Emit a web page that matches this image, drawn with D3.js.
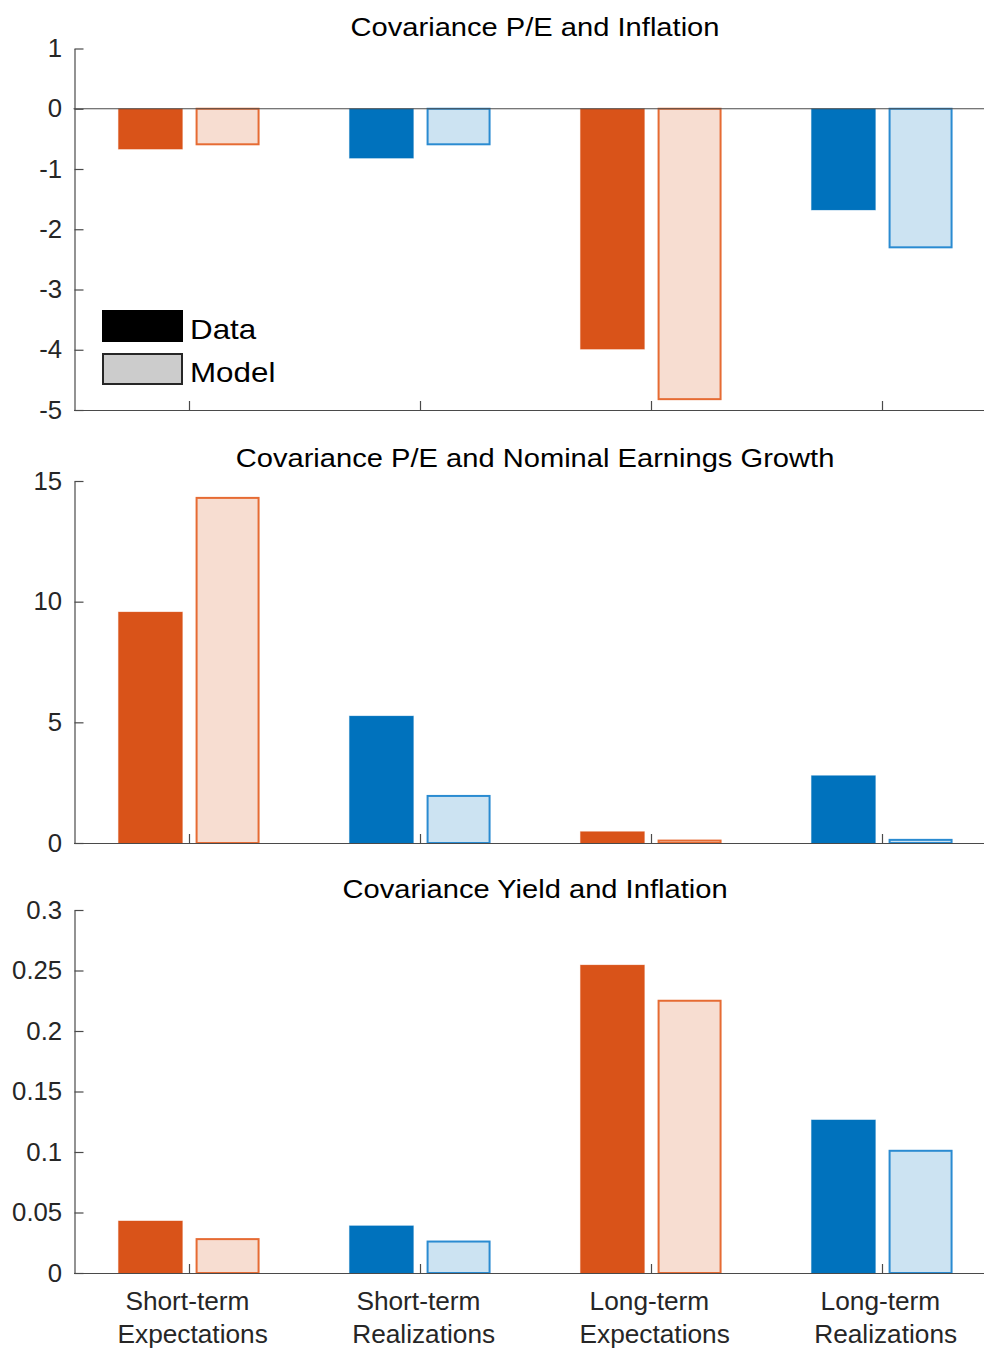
<!DOCTYPE html>
<html>
<head>
<meta charset="utf-8">
<script src="https://cdn.jsdelivr.net/npm/d3@7"></script>
<style>
  html, body { margin: 0; padding: 0; background: #fff; }
  svg { display: block; font-family: "Liberation Sans", Arial, Helvetica, sans-serif; }
</style>
</head>
<body>
<svg id="chart" width="984" height="1350"></svg>
<script>
// ---------- data ----------
const categories = ["Short-term\nExpectations", "Short-term\nRealizations", "Long-term\nExpectations", "Long-term\nRealizations"];
const seriesNames = ["Data", "Model"];

const peInflationData  = [-0.67, -0.82, -3.99, -1.68];
const peInflationModel = [-0.59, -0.59, -4.82, -2.30];

const peEarningsData  = [9.57, 5.26, 0.47, 2.79];
const peEarningsModel = [14.3, 1.95, 0.10, 0.13];

const yieldInflationData  = [0.043, 0.039, 0.2545, 0.1265];
const yieldInflationModel = [0.028, 0.026, 0.225, 0.101];

const titles = ["Covariance P/E and Inflation", "Covariance P/E and Nominal Earnings Growth", "Covariance Yield and Inflation"];
const ticks1 = [1, 0, -1, -2, -3, -4, -5];
const ticks2 = [0, 5, 10, 15];
const ticks3 = [0, 0.05, 0.1, 0.15, 0.2, 0.25, 0.3];

// ---------- styling ----------
const textColor = "#262626";
const axisColor = "#4a4a4a";
const orange = "#D95319", orangeLight = "#F7DDD1", orangeEdge = "#E66B33";
const blue = "#0072BD", blueLight = "#CCE3F2", blueEdge = "#2A8BD1";
const groupColors = [
  {dark: orange, light: orangeLight, edge: orangeEdge},
  {dark: blue, light: blueLight, edge: blueEdge},
  {dark: orange, light: orangeLight, edge: orangeEdge},
  {dark: blue, light: blueLight, edge: blueEdge}
];

const svg = d3.select("#chart");
const x = d3.scaleLinear().domain([0.5, 4.5]).range([73.5, 997.5]);
const barOffset = 0.167, barW = 0.277;
const plainFmt = d => String(+d.toFixed(2)); // hyphen-minus, like the original

const panels = [
  {title: titles[0], titleY: 36, domain: [-5, 1], range: [410, 48.5], ticks: ticks1, data: peInflationData, model: peInflationModel, zeroLine: true, labels: false},
  {title: titles[1], titleY: 467, domain: [0, 15], range: [843, 481], ticks: ticks2, data: peEarningsData, model: peEarningsModel, zeroLine: false, labels: false},
  {title: titles[2], titleY: 898, domain: [0, 0.3], range: [1273, 910], ticks: ticks3, data: yieldInflationData, model: yieldInflationModel, zeroLine: false, labels: true}
];

panels.forEach(p => {
  const y = d3.scaleLinear().domain(p.domain).range(p.range);
  const g = svg.append("g");

  // bars
  categories.forEach((c, i) => {
    const col = groupColors[i];
    const xi = i + 1;
    const yd = p.data[i], ym = p.model[i];
    g.append("rect")
      .attr("x", x(xi - barOffset - barW / 2))
      .attr("width", x(xi - barOffset + barW / 2) - x(xi - barOffset - barW / 2))
      .attr("y", y(Math.max(0, yd)))
      .attr("height", Math.abs(y(yd) - y(0)))
      .attr("fill", col.dark)
      .attr("stroke", col.dark).attr("stroke-opacity", 0.35).attr("stroke-width", 1);
    const mx0 = x(xi + barOffset - barW / 2) + 1, mx1 = x(xi + barOffset + barW / 2) - 1;
    const my0 = y(Math.max(0, ym)), my1 = y(Math.min(0, ym));
    g.append("rect")
      .attr("x", mx0)
      .attr("width", mx1 - mx0)
      .attr("y", my0)
      .attr("height", Math.max(0, my1 - my0))
      .attr("fill", col.light)
      .attr("stroke", col.edge).attr("stroke-width", 2);
  });

  if (p.zeroLine) {
    g.append("line")
      .attr("x1", x(0.5)).attr("x2", 984)
      .attr("y1", y(0)).attr("y2", y(0))
      .attr("stroke", axisColor).attr("stroke-width", 1.2);
  }

  // y axis
  const ya = g.append("g")
    .attr("transform", `translate(${x(0.5) + 1},0)`)
    .call(d3.axisLeft(y).tickValues(p.ticks).tickFormat(plainFmt).tickSizeInner(-9).tickSizeOuter(0).tickPadding(12));
  ya.select(".domain").attr("stroke", axisColor).attr("stroke-width", 1.2);
  ya.selectAll(".tick line").attr("stroke", axisColor).attr("stroke-width", 1.2);
  ya.selectAll(".tick text")
    .attr("fill", textColor).attr("font-size", 25)
    .attr("transform", "scale(1.03,1)");

  // x axis
  const xa = g.append("g")
    .attr("transform", `translate(0,${p.range[0]})`)
    .call(d3.axisBottom(x).tickValues([1, 2, 3, 4]).tickFormat(p.labels ? (d => categories[d - 1]) : (() => "")).tickSizeInner(-9).tickSizeOuter(0).tickPadding(0));
  xa.select(".domain").attr("stroke", axisColor).attr("stroke-width", 1.2);
  xa.selectAll(".tick line").attr("stroke", axisColor).attr("stroke-width", 1.2);
  if (p.labels) {
    xa.selectAll(".tick text").each(function(d) {
      const t = d3.select(this);
      const lines = categories[d - 1].split("\n");
      t.text(null).attr("dy", null).attr("y", 0)
        .attr("fill", textColor).attr("font-size", 25)
        .attr("transform", "scale(1.05,1)");
      lines.forEach((ln, k) => {
        t.append("tspan").attr("x", k === 0 ? -2 : 3).attr("y", k === 0 ? 37 : 70).text(ln);
      });
    });
  } else {
    xa.selectAll(".tick text").remove();
  }

  // title
  svg.append("text")
    .attr("transform", `translate(535,${p.titleY}) scale(1.12,1)`)
    .attr("text-anchor", "middle")
    .attr("font-size", 26)
    .attr("fill", "#000")
    .text(p.title);
});

// legend (first panel)
const legend = svg.append("g");
const legendItems = [
  {name: seriesNames[0], fill: "#000", stroke: "#000", y: 311},
  {name: seriesNames[1], fill: "#cccccc", stroke: "#262626", y: 354}
];
legendItems.forEach(it => {
  legend.append("rect")
    .attr("x", 103).attr("y", it.y).attr("width", 79).attr("height", 30)
    .attr("fill", it.fill).attr("stroke", it.stroke).attr("stroke-width", 2);
  legend.append("text")
    .attr("transform", `translate(190,${it.y + 28}) scale(1.12,1)`)
    .attr("font-size", 28).attr("fill", "#000")
    .text(it.name);
});
</script>
</body>
</html>
